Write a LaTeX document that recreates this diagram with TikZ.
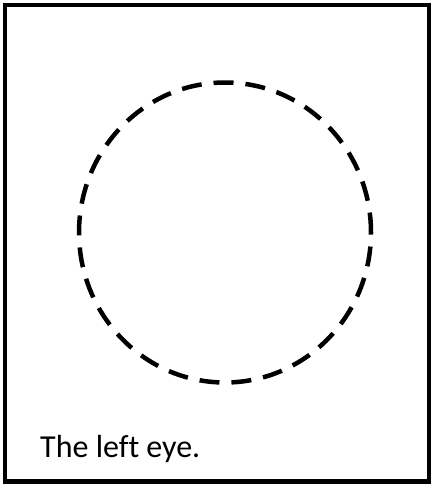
\documentclass[tikz,border=0pt]{standalone}
\usepackage{fontspec}
\setmainfont{Carlito}[Ligatures={NoCommon}]
\usetikzlibrary{shapes.geometric}
\begin{document}
\begin{tikzpicture}[x=1pt,y=-1pt,
  frame/.style={draw=black,line width=4.5pt},
  eye/.style={draw=black,line width=4.5pt,dash pattern=on 20pt off 12pt},
  caption/.style={anchor=base west,inner sep=0pt,font=\fontsize{32}{38}\selectfont}]
\useasboundingbox (0,0) rectangle (432,485);
\node[frame,minimum width=424pt,minimum height=476.5pt,inner sep=0pt] (box) at (217,243.25) {};
\node[eye,ellipse,minimum width=292pt,minimum height=300pt,inner sep=0pt] (lefteye) at (225,232.5) {};
\node[caption] (label) at (40,457) {The left eye.};
\end{tikzpicture}
\end{document}
